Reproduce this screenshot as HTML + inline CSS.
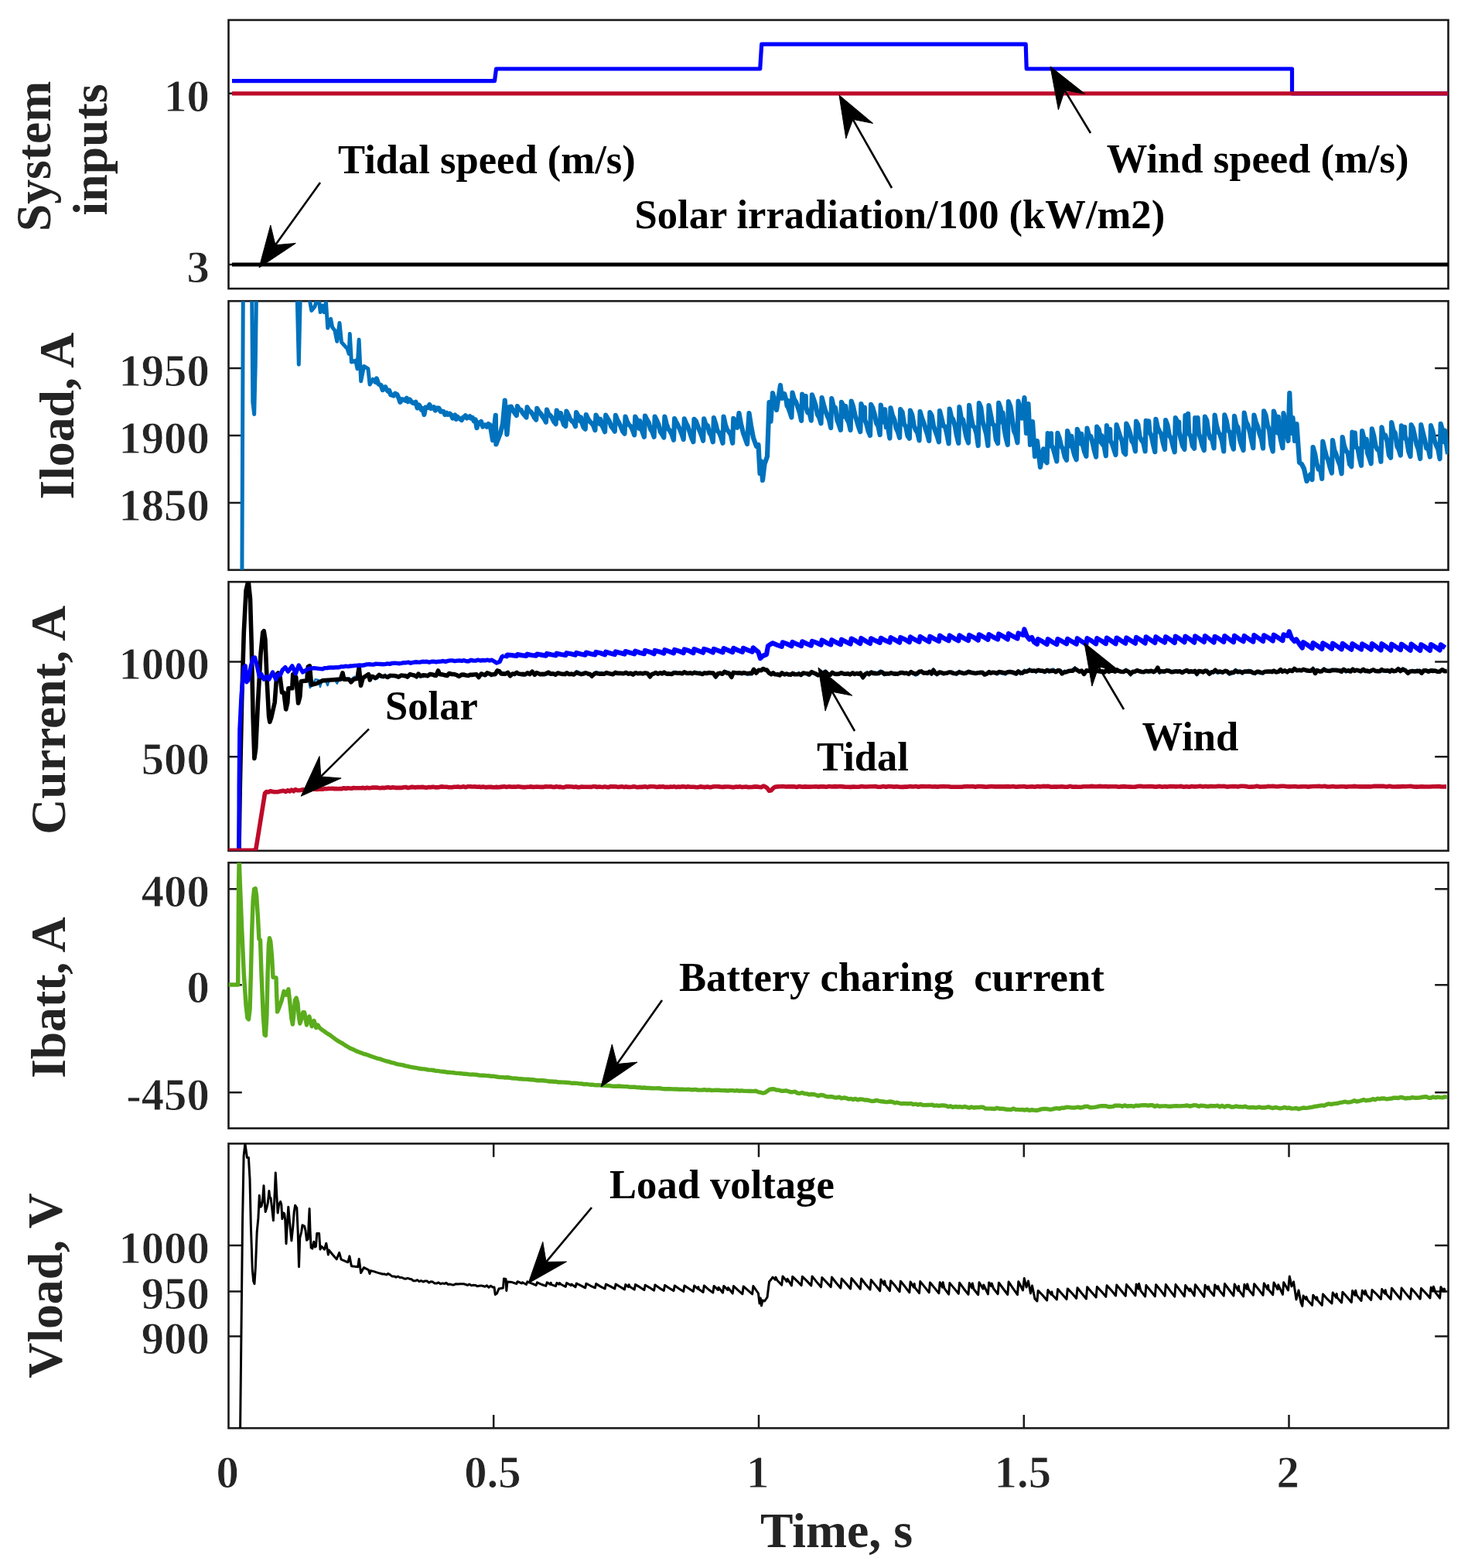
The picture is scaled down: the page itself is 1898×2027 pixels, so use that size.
<!DOCTYPE html>
<html lang="en"><head><meta charset="utf-8"><title>System inputs, currents and load voltage</title>
<style>
html,body{margin:0;padding:0;background:#fff;}
body{width:1898px;height:2027px;}
svg{display:block;}
text{font-family:"Liberation Serif","DejaVu Serif",serif;font-weight:bold;fill:#242424;}
.tk{font-size:58.7px;stroke:#fff;stroke-width:0.8px;paint-order:fill stroke;}
.lb{font-size:63.7px;}
.an{font-size:52.6px;fill:#000;white-space:pre;}
.fr{fill:none;stroke:#1a1a1a;stroke-width:2.6;}
.t{stroke:#1a1a1a;stroke-width:2.5;fill:none;}
.ar{stroke:#000;stroke-width:2.6;fill:none;stroke-linecap:butt;}
.ah{fill:#000;stroke:#000;stroke-width:1;stroke-linejoin:round;}
</style></head><body>
<svg width="1898" height="2027" viewBox="0 0 1898 2027" role="img" aria-label="Five stacked time plots: system inputs, load current, source currents, battery current and load voltage">
<rect x="0" y="0" width="1898" height="2027" fill="#fff"/>
<g id="panel1">
<clipPath id="c1"><rect x="295.5" y="25.9" width="1577" height="347.2"/></clipPath>
<path class="t" d="M295.5 120.8h17.3M1872.5 120.8h-17.3M295.5 342h17.3M1872.5 342h-17.3"/>
<rect class="fr" x="295.5" y="25.9" width="1577" height="347.2"/>
<g clip-path="url(#c1)">
<polyline points="300,104.6 639.5,104.6 641.5,89 982.7,89 984.7,57.2 1326.2,57.2 1327.2,89 1670.5,89 1670.5,120.8 1872.5,120.8" fill="none" stroke="#0000ff" stroke-width="5.2" stroke-linejoin="round" stroke-linecap="butt"/>
<polyline points="300,120.8 1872.5,120.8" fill="none" stroke="#be0a2a" stroke-width="5.2" stroke-linejoin="round" stroke-linecap="butt"/>
<polyline points="300,342 1872.5,342" fill="none" stroke="#000000" stroke-width="5.2" stroke-linejoin="round" stroke-linecap="butt"/>
</g>
<text class="tk" x="270.8" y="143.6" text-anchor="end">10</text>
<text class="tk" x="270.8" y="364.8" text-anchor="end">3</text>
<text class="lb" transform="translate(64.5 201.9) rotate(-90)" text-anchor="middle">System</text>
<text class="lb" transform="translate(138 193.5) rotate(-90)" text-anchor="middle">inputs</text>
</g>
<g id="panel2">
<clipPath id="c2"><rect x="295.5" y="389.2" width="1577" height="347.6"/></clipPath>
<path class="t" d="M295.5 476h17.3M1872.5 476h-17.3M295.5 562.9h17.3M1872.5 562.9h-17.3M295.5 650h17.3M1872.5 650h-17.3"/>
<rect class="fr" x="295.5" y="389.2" width="1577" height="347.6"/>
<g clip-path="url(#c2)">
<polyline points="312.9,740.8 313.6,560 314.4,359.2 325.5,359.2 326.8,520 328.7,535.5 330.3,470 331.8,359.2 383.6,359.2 386.3,471.3 388.8,359.2 400,359.2 400.7,389.7 402.8,401.5 407.1,396.1 409.3,388.6 412.5,388.6 414.2,403.6 416.8,395 419,403.6 421.5,390.7 423.7,424.1 427.6,412.2 429.7,423 432.9,427.3 435.7,441.3 439,417.6 441.5,442.3 449.1,450.9 451.2,457.4 452.3,431.6 454.4,468.1 459.8,466 462,476.7 464.1,439.1 466.7,492.8 470.5,473.5 475.9,476.7 478.1,497.1 483.4,488.5" fill="none" stroke="#0072bd" stroke-width="5.0" stroke-linejoin="round" stroke-linecap="butt"/>
<polyline points="483.4,488.5 485.4,493.8 486.9,489.5 489,495.8 491,497.5 492.6,498 494.7,504.1 496.7,502.3 498.1,500.2 499.8,503.4 501.7,505.6 503.2,504.7 505.1,510.3 506.7,510.4 508.8,511.5 511,508.8 513.4,510 515.5,514.5 517.4,519.9 519.6,516.2 521.9,516.5 524.2,517.8 525.8,514.8 527.4,519.2 529.7,516.5 531.8,519.1 533.9,520.9 535.5,521.3 537.5,519.7 539.6,527.4 541.8,523.6 543.4,526.4 544.9,529.8 546.6,528.4 548.4,536 550.1,526.6 551.5,526.6 553.3,526.9 555.4,523.1 557.1,528 559,527.5 561,526.2 562.8,530.6 565.1,527.6 567.4,527.7 569.7,532.1 571.6,531.7 573.4,532.1 575.4,536 577.5,533.9 579,535.9 581.4,534.6 583.2,536.1 585.2,540.6 586.9,538.7 588.3,536.6 589.8,541.9 591.3,538.6 592.9,540.6 594.6,541.2 596.9,543 598.8,539.7 600.2,539.1 601.8,537.3 603.6,540.6 605.6,539.6 607.4,538.2 608.9,540.7 610.9,540 612.7,544.2 614.7,542.5 616.5,553.2 618.5,546.3 620.6,546.8 622.1,545.1 624.2,551.6 625.6,549.9 627.7,549.3 629.6,551.8 631.5,548.1 633.7,549.4 637.1,569.1 640.8,536.9 641.4,574.5 646.8,560.5 650,547.7 652.8,517.6 655.4,561.6 658.6,526.2 660.1,529.2 660.9,529.9 660.9,525.6 663.2,530.7 665.5,534 667.8,537.1 668.9,525.2 671.3,529.1 673.6,529.9 675.9,534 678.2,536.7 680.5,539.5 681.6,526.3 684,531 686.3,532.4 688.6,535.5 690.9,539.7 693.2,542.6 694.3,527.9 696.7,532.1 699,534.4 701.3,538.4 703.6,541.4 705.9,545.8 707,529.7 709.4,535.4 711.7,537.2 714,540.6 716.3,545.3 718.6,548.1 719.7,530.5 722.1,535.2 724.3,540.8 724.4,539.9 725,534 726.7,542 729,548.9 731.3,551 732.4,531.6 734.8,536.3 737.1,541.8 739.4,544.4 741.7,546.2 744,551.2 745.1,533 747.5,537.5 749.8,540.3 750.3,544.3 751.1,539.5 752.1,545.9 754.4,552.3 756.7,554.7 757.8,536 760.2,541.3 762.5,544.8 764.8,546.8 767.1,550 769.4,556.1 770.5,536.6 772.9,540.8 775.2,546.8 775.5,548 776.3,541.9 777.5,548.3 779.8,553 782.1,558.2 783.2,536.7 785.6,540.8 787.9,544.6 790.2,551.2 792.5,554.1 794.8,557.7 795.9,536.9 798.3,542.9 800.6,547 802.9,552.3 805.2,557.7 807.5,560.6 808.6,538.6 811,545.2 813.3,549.2 815.6,551.3 817.9,556.2 820.2,562.4 821.3,538.7 823.7,543.1 826,546.6 826.6,553.8 827.3,544.1 828.3,552.5 830.6,558.4 832.9,564.9 834,537.5 836.4,542.3 838.7,546.1 841,554.7 843.3,558.2 845.6,564.8 846.7,538.5 849.1,543.4 851.4,548.6 853.7,558.1 856,561.5 858.3,565.6 859.4,538.6 861.8,548.3 864.1,554.5 866.4,557.3 868.7,561.9 871,568.7 872.1,541 874.5,546.1 876.8,550.2 879.1,555.3 881.4,561.1 883.7,568.1 884.8,541.4 887.2,547.3 889.5,551.6 891.8,558.9 894.1,565.9 896.4,571.2 897.5,541.9 899.9,544.6 902.2,551 904.5,556.8 906.8,562.2 909.1,569.7 910.2,541.3 912.6,549.1 914.9,550.3 917.2,559.3 919.5,563.1 921.8,571.3 922.9,540.1 925.3,547.8 927.6,556.9 929.9,559.4 932.2,565 934.5,572.8 935.6,538.6 938,549.6 940.3,555.8 942.6,558.3 944.9,562.1 947.2,572.8 948.3,540.8 950.7,551.1 953,552.8 955.5,534 958,548 961,560 966,574 968.5,534 971,550 974,566 978,577 980.5,575 982.5,612 984,596 986,621 988.5,600 992,590 994.5,520 996.5,545 999,508 1002,520 1004,530 1009,498 1011,515 1014.2,509.1 1016.5,517.6 1017.6,524.7 1018.3,517.7 1018.8,526.3 1021.1,532.3 1023.4,539.6 1024.5,507.5 1026.9,516.2 1029.2,519.7 1031.5,526.5 1033.8,533.2 1036.1,543.9 1037.2,509.7 1039.6,519.5 1041,524.9 1041.7,512 1041.9,525.5 1044.2,533.3 1046.5,533.3 1048.8,543.6 1049.9,510.3 1052.3,516.9 1054.6,524.2 1056.9,535.8 1059.2,539.9 1061.5,547.4 1062.6,514.1 1065,523.3 1067.3,531.3 1069.6,537.4 1071.9,542.4 1074.2,553.1 1075.3,515.1 1077.7,525.4 1080,527.1 1082.3,542.9 1084.6,549 1086.9,555.9 1088,519.8 1090.4,524.5 1092.6,538.8 1092.7,538.8 1093.4,525 1095,541.7 1097.3,546.1 1099.6,556 1100.7,518.5 1103.1,525.6 1105.4,536.5 1107.7,543.9 1110,551.8 1112.3,558.2 1113.4,522 1115.8,529.3 1117,538.6 1117.8,526.8 1118.1,542.3 1120.4,548.7 1122.7,557.6 1125,563 1126.1,522.8 1128.5,527.5 1130.8,535.6 1133.1,547.1 1135.4,551 1137.7,562.2 1138.8,523.7 1141.2,536.3 1143.4,546.1 1143.5,539.1 1144.1,529.3 1145.8,552.4 1148.1,552.8 1150.4,566.5 1151.5,527.3 1153.9,536.7 1156.2,541.9 1158.5,553.3 1160.8,558.2 1163.1,565.8 1164.2,529.2 1166.6,532.7 1168.9,548.1 1171.2,551.9 1173.5,563.4 1175.8,566.8 1176.9,530.7 1179.3,536.3 1181.6,549.8 1183.9,555.9 1186.2,559.3 1188.5,569.4 1189.6,532.1 1192,540.3 1194.3,546.5 1196.6,554.4 1198.9,561.2 1201.2,569.9 1202.3,533.1 1204.7,537.2 1207,550.5 1209.3,557.4 1211.6,563.6 1213.9,571.3 1215,531.2 1217.4,540.8 1219.7,550.6 1222,551.5 1224.3,561.3 1226.6,573.4 1227.7,528.6 1230.1,539.2 1232.4,542.6 1234.7,550.8 1237,563.6 1239.3,572.9 1240.4,526.2 1242.8,540.5 1245.1,542.8 1247.4,555.7 1249.7,566 1252,572.5 1253.1,523.9 1255.5,539.5 1257.8,550.5 1260.1,552.7 1262.4,560.1 1264.7,576.1 1265.8,521 1268.2,526.8 1270.5,544.6 1272.8,553 1275.1,561 1277.4,576.2 1278.5,524 1280.9,536.2 1283.2,548.1 1285.5,550.1 1287.8,568.4 1290.1,573.3 1291.2,520.8 1293.6,527.7 1295.7,545.8 1295.9,535.8 1296.5,533.6 1298.2,553.2 1300.5,565.9 1302.8,575 1303.9,519.1 1306.3,525.3 1308.6,539.8 1310.9,557.2 1313.2,562 1315.5,572.3 1316.6,518.7 1319,531.6 1321.3,540.7 1324.5,514 1327,560 1329.5,522 1332,575 1335,545 1338,590 1341,570 1345,604 1349,580.3 1351.3,595.7 1353.6,598.3 1354.7,560.2 1357.1,572.4 1358.2,576.4 1359,560.3 1359.4,575.4 1361.7,579.7 1364,588.1 1366.3,596.4 1367.4,559.9 1369.8,566.6 1372.1,576.7 1374.4,580.8 1376.7,590.5 1379,594.8 1380.1,557.2 1382.5,564.3 1384.6,575.3 1384.8,576.9 1385.4,563.9 1387.1,580.4 1389.4,588.9 1391.7,594.2 1392.8,554.8 1395.2,561.1 1397.5,573.5 1397.5,573.1 1398.3,560.9 1399.8,575.3 1402.1,584.1 1404.4,589.9 1405.5,553.5 1407.9,562.7 1410.2,563.9 1412.5,572.1 1414.8,582.5 1417.1,590.7 1418.2,551.7 1420.6,555 1422.9,565.9 1423.5,571.8 1424.3,563 1425.2,574.2 1427.5,576.7 1429.8,589.3 1430.9,550.2 1433.3,561.5 1434.5,565.1 1435.2,555.2 1435.6,569.5 1437.9,573.8 1440.2,581.2 1442.5,588 1443.6,549.1 1446,556.7 1448.3,564.2 1450.6,569.8 1452.9,584.6 1455.2,587.4 1456.3,547.7 1458.7,552.6 1461,559.7 1463.3,570.4 1465.6,573.2 1467.9,583.4 1469,544.7 1471.4,549.1 1473.7,564.6 1476,569.4 1478.3,572.4 1480.6,583.4 1481.7,543.8 1484.1,549.4 1484.4,557.8 1485.2,544.3 1486.4,558.6 1488.7,563.8 1491,574.8 1493.3,584.2 1494.4,541.8 1496.8,552.4 1499.1,557.5 1501.4,561.4 1503.7,572.6 1506,581 1507.1,543 1509.5,549.6 1511.8,562.6 1514.1,566.6 1516.4,576.4 1518.7,584.3 1519.8,540.2 1522.2,545 1523.4,556.4 1524.2,545.5 1524.5,557.4 1526.8,568 1529.1,576.6 1531.4,580.9 1532.5,537.1 1534.9,546 1535.3,553.4 1536.1,534.9 1537.2,560.3 1539.5,564.5 1541.8,576.4 1544.1,579.7 1545.2,540 1547.6,550.9 1547.7,553.6 1548.5,540.1 1549.9,559.9 1552.2,567.3 1554.5,576.1 1556.8,582.2 1557.9,538.7 1560.3,543.4 1562.6,559.5 1564.9,566.5 1567.2,568.7 1569.5,579.3 1570.6,536.5 1573,550.3 1575.3,558.5 1577.6,562.5 1579.9,570 1582.2,583.4 1583.3,536.4 1585.7,543.8 1588,556.3 1590.3,559.2 1592.6,574.1 1594.9,580.6 1596,537.8 1598.4,549.2 1600.7,552.8 1603,568.5 1605.3,576.1 1607.6,582 1608.7,533.5 1611.1,545.3 1613.4,549.6 1615.7,557.7 1618,568.9 1620.3,579.2 1621.4,536.5 1623.8,545.6 1626.1,551.4 1628.4,560.6 1630.7,566.8 1633,579.5 1634.1,531.3 1636.5,536.8 1638.8,549.1 1641.1,556.1 1643.4,575.4 1645.7,583.5 1646.8,531.6 1649.2,538.6 1651.5,547.2 1652,559.7 1652.7,538.8 1653.8,556.8 1656.1,569.6 1658.4,579.2 1659.5,534.1 1661.9,546.9 1665.5,570 1667.3,508 1669.5,560 1671.5,540 1674,570 1676.5,548 1680,598 1683,600 1686,606 1689.5,622 1694.2,613.3 1696.5,620.1 1697.6,578 1700,586.1 1702.3,598.9 1704.6,606.6 1706.9,605.9 1709.2,618.9 1710.3,570.6 1712.7,581.2 1715,590 1717.3,595.3 1719.6,604.3 1721.9,611.5 1723,569.1 1725.4,582.3 1727.7,587.7 1730,595.4 1732.3,601 1734.6,612.3 1735.7,565.1 1738.1,577 1740.4,582.8 1742.7,585.7 1745,600.2 1747.3,603.2 1748.4,558.7 1750.8,572.8 1751,572.7 1751.8,559.6 1753.1,578 1755.4,579.7 1757.7,592 1760,601.8 1761.1,557.1 1763.5,567 1765.8,576.7 1765.9,577.9 1766.7,567.8 1768.1,585.9 1770.4,592.2 1772.7,599.2 1773.8,554.4 1776.2,563 1778.5,576.3 1780.8,581 1783.1,582.6 1785.4,596.8 1786.5,552.4 1788.9,564.5 1791.2,562.8 1793.5,570.9 1795.8,588.2 1798.1,591.7 1799.2,546.1 1801.6,556.6 1803.9,559.9 1806.2,576.7 1808.5,580.9 1810.8,588.6 1811.9,550.4 1814.3,559.6 1815.2,566.2 1816,552.2 1816.6,563.5 1818.9,570 1821.2,583.5 1823.5,590.1 1824.6,549.2 1827,553.8 1829.3,564.5 1831.6,574.9 1833.9,580.9 1836.2,593 1837.3,549.2 1839.7,559.1 1842,568.3 1844.3,579.7 1846.6,579.7 1848.9,590.5 1850,550.2 1852.4,557.5 1854.7,569.3 1857,575.9 1859.3,580.8 1861.6,593.3 1862.7,547.8 1865.1,556.3 1867.3,571.3 1867.4,566.5 1868.1,556.5 1869.7,572.1 1872,587" fill="none" stroke="#0072bd" stroke-width="6.2" stroke-linejoin="round" stroke-linecap="butt"/>
</g>
<text class="tk" x="270.8" y="498.8" text-anchor="end">1950</text>
<text class="tk" x="270.8" y="585.7" text-anchor="end">1900</text>
<text class="tk" x="270.8" y="672.8" text-anchor="end">1850</text>
<text class="lb" transform="translate(94.8 537.7) rotate(-90)" text-anchor="middle">Iload, A</text>
</g>
<g id="panel3">
<clipPath id="c3"><rect x="295.5" y="752.2" width="1577" height="347.6"/></clipPath>
<path class="t" d="M295.5 855.6h17.3M1872.5 855.6h-17.3M295.5 978.2h17.3M1872.5 978.2h-17.3"/>
<rect class="fr" x="295.5" y="752.2" width="1577" height="347.6"/>
<g clip-path="url(#c3)">
<polyline points="398.6,879 400.8,889.1 404.1,885.3 407.7,878.1 411.7,879 414,888 416.2,880.8 420.4,879 423.6,886.2 425.8,879.9 433,879.3 435.8,883.7 438.1,879.3 453,878.6 458.4,874.6 462,878.1" fill="none" stroke="#0072bd" stroke-width="2.4" stroke-linejoin="round" stroke-linecap="butt"/>
<polyline points="482,876.1 484.9,878.4 487.4,877.9 490.2,874.6 493.4,874.7 495.7,876.6 497.9,871.6 501.2,877 504.3,875.4 506.7,873.7 509.4,872.3 512.1,874.3 515.3,873.5 518.7,873.7 522.1,874.4 524.5,875.4 526.8,875.2 530,869.8 533.1,871.3 535.4,874.6 538.7,876.8 541,873.3 543.7,872 547.1,875.4 549.9,874.2 552.8,873.3 555.9,869.9 558.7,870.2 561.6,875.2 563.9,874.9 566.5,868 568.7,869.9 571.7,873.3 574.9,872.2 578,871.1 580.8,870.3 583.9,873.1 587.2,870.3 590.5,872.7 593.4,873.4 596.6,870.6 599.8,871.6 602.5,872.8 605.5,872.7 607.7,871.7 610.4,873.2 613.5,870.9 616.1,871 619,877.2 622.2,870 624.7,872.3 627.4,873.7 629.9,872.4 632.5,869.6 634.9,874.4 638.1,872.3 640.3,870.4 643,868.5 645.3,868.9 648.1,871 650.7,868.9 653.5,870.5 656.6,869.1 659.6,871.8 662.6,870.6 665.3,873.4 668.2,869.2 670.4,870 673.6,871 676.7,873.9 679,870.9 682.1,870.7 684.9,872.4 688.1,869.6 691.3,870 693.6,867.9 695.9,871.9 698.5,872.3 700.9,872.2 703.6,869.8 706.3,872.8 709,871.9 712.1,873 715.1,872.5 718.2,871.2 721.2,870 724.1,869.9 727.5,871.9 730.7,873.3 732.9,868.9 735.5,873.1 738.9,869.3 742.1,873.1 745.2,867.1 748.6,868.3 751.6,871 754.1,868.8 757.2,868.6 760.4,873.2 762.7,872 765.3,876.2 768,869.1 770.8,868.2 773.1,868.7 775.6,869.2 778.2,868.8 781.5,871.8 784.1,871.3 786.9,869.5 790,870.1 792.7,872.5 795.6,869.7 798.3,870.4 801.4,869.8 804.3,869 806.8,869.5 809.3,870.5 812.6,871.8 815.4,872.3 818.5,873.4 821.5,869.1 824.9,869.3 828,871.8 831.3,868.9 834,871.3 837.3,871.1 840.3,876.7 842.6,873.9 845.4,872 847.6,870.5 850.5,871 853.7,870.3 856.1,870.2 858.7,870.4 862,869.7 865,871.1 868.3,872.2 870.6,867.7 873,870 875.7,868.9 878.8,870.2 881.9,870.7 884.8,870.5 887.9,872.1 890.4,872.1 892.6,870.6 894.9,872.5 897.9,867.4 900.2,871.3 902.9,868.9 905.3,868.4 908.4,871.7 910.9,871.2 913.5,871.2 916.5,871.5 918.9,868.6 922.1,870.4 925.3,877 928.3,873.4 931,868.7 934.1,870.3 936.8,867.8 939.9,867.6 942.5,868.7 945.8,877.1 948.1,870.2 950.4,868 953.6,871.6 956.7,871.6 959.4,872.4 961.7,868.6 964,870.6 966.2,872.7 969.1,872.1 972.2,872.6 974.5,865.7 977.8,868.8 981,867.4 984.2,867.6 986.6,865.5 989,866.4 991.3,865.8 994.2,867.6 997.1,872.9 999.7,871.4 1002.1,871.8 1005.5,869.7 1008.2,872.1 1010.9,870.6 1014.3,872.6 1016.6,872.2 1019.5,873.8 1022.3,870.5 1024.8,872.9 1027.1,869.4 1030.5,871.5 1032.9,868.7 1035.7,874.3 1038.5,870.8 1041,869.2 1043.8,873.2 1046.2,873.7 1049.4,869.5 1051.6,868.5 1054.5,871.1 1057.6,870.9 1061,869.9 1064.4,867.8 1067.5,866.3 1070.4,873.7 1073.4,873.3 1076.1,869.7 1079.1,872.7 1081.8,872.1 1085.1,869.3 1087.8,872.1 1090.7,869.7 1093.5,870.2 1095.9,872.5 1099.1,871.2 1102.4,870.8 1105,872.5 1107.6,869.7 1110.1,872.8 1112.5,870.5 1115.7,877.8 1118.8,870.4 1121.3,868 1123.7,873.6 1126.5,871 1128.9,869 1131.3,868.1 1133.7,872 1135.9,867.9 1138.6,866.3 1140.8,867.6 1143.1,873.4 1146.3,871.9 1149.5,871.2 1152.1,870.8 1155.2,869.8 1157.8,869.1 1161,873 1163.9,867.7 1166.3,870.4 1169.3,869 1171.9,870.5 1174.8,872.8 1177.9,869.9 1180.5,871.9 1183.4,873.6 1185.9,873.2 1188.5,869.7 1191.3,867.9 1194.2,871.5 1196.9,869.4 1199.1,871.7 1201.8,870.4 1204.4,873 1206.8,863.8 1209.1,871.4 1211.4,873.4 1214.5,871.6 1217.2,869.6 1219.8,870 1222.3,871.2 1224.5,871.8 1226.9,868.2 1229.6,870.9 1232,867.9 1234.7,870.7 1236.9,873.2 1240.1,866.7 1243.3,868.8 1246.3,871.2 1249.2,872.1 1252.4,867.7 1255.4,867.6 1258.7,868.3 1261.3,870.2 1264.4,870.3 1267,867.4 1270.2,870 1272.9,869.7 1276.1,870.5 1278.8,868.8 1281,870 1283.6,869.3 1286,870.1 1289.1,872.3 1291.5,870.4 1294.3,871.3 1297.1,871.8 1299.9,872.8 1303,869 1305.4,870 1308,866.8 1310.6,871.9 1313.6,870.3 1316.5,867.4 1319.2,872.3 1321.9,868 1324.5,865.3 1327.7,868.4 1331,863.8 1334.3,869 1337.2,865.5 1339.6,870.1 1342.4,865.2 1345.5,866 1347.8,866.4 1350.8,867.2 1353.8,867.2 1356.4,870.1 1358.7,865.4 1361.9,864.4 1365.3,866.6 1368,865.9 1370.7,869.8 1373.1,868.4 1376.5,866.4 1378.7,867.8 1381.2,866.8 1384,866 1387,864.5 1389.9,862.1 1392.7,867.9 1395.5,869.6 1398.5,868 1401.5,869.9 1404.7,865.9 1407.2,866 1409.7,866.7 1412.5,867.5 1414.8,868.1 1417.7,866.8 1420.7,866.2 1423.2,868.5 1425.5,867.2 1428.3,870.5 1430.9,867 1433.7,866.5 1435.9,868.9 1439.1,868.5 1441.7,867.3 1444.1,864.4 1446.3,867.9 1449.4,866.9 1452.4,869.3 1455.7,864.4 1459,867.6 1461.7,873.8 1464.7,868.1 1467,867.8 1470.1,867.5 1473.5,868.4 1476.1,869.1 1478.8,870 1482,868.4 1485.3,870 1488.5,868.4 1491.7,867.6 1494.5,866 1496.8,863.3 1499.2,871.2 1502.1,867.4 1505.4,867.8 1508.6,867.2 1511.9,865.4 1514.5,869.6 1516.8,866.5 1520.1,868.2 1522.6,869 1525.3,865.8 1528.6,870.7 1531.1,866.4 1534.4,866.8 1537.1,869.7 1539.7,870.1 1542.3,869.5 1544.9,869.2 1547.4,873.6 1549.8,866.6 1552.7,869 1555.5,868.5 1558.3,869 1561,865.5 1563.7,870.8 1566.5,869.4 1568.9,870.7 1571.3,868.8 1574.2,870.9 1577.5,870.2 1580.6,869.4 1584,866.2 1586.3,869.6 1589.5,872.8 1592.3,871.9 1594.9,870.4 1597.4,864.7 1600.4,866.7 1603.5,866.7 1606.2,871.9 1609.2,868.4 1611.8,866.5 1614.6,865.5 1617,868.1 1619.6,870.8 1622.8,872.3 1625,868.3 1627.5,870.8 1630.7,868.4 1633,871.8 1635.7,867.8 1639,869.5 1642.3,868.8 1644.7,868.9 1647,869.1 1650.3,868.5 1653,869.6 1655.8,864.2 1658,867.4 1661.2,867.1 1664.2,870.6 1667.6,865.2 1670.8,866.9 1673.6,863 1676.8,866.4 1680.1,866.3 1682.5,867.1 1685.2,864.6 1688.4,868.6 1691.2,867.9 1694.5,866.9 1697.6,862.3 1700.5,867.8 1702.9,865.5 1706.2,866.4 1708.6,866.7 1711.7,863.2 1714.2,864.8 1716.8,868.5 1719.4,865.8 1722.3,864.4 1725.4,865.3 1728.6,868.6 1731.4,865.3 1734.4,865.7 1737.3,867.7 1740.5,869.7 1743.4,864.7 1746.2,866.2 1749,867.1 1751.4,865.4 1753.7,865 1756.5,866.3 1759.4,868.6 1762.7,868 1765,868.4 1767.8,869.3 1770.9,869.5 1773.5,865.5 1775.7,867.4 1778.2,868.2 1781.5,869.3 1784,868.3 1786.2,868.3 1789.4,868.5 1792.1,868.5 1794.5,868 1796.8,868 1799.4,867.6 1801.7,868 1804.9,866.8 1807.9,864.1 1810.7,869.1 1813.7,863.1 1816.9,864.9 1820.2,867.8 1822.7,866.6 1826,866.9 1829.2,869.3 1832.2,865.2 1835.5,867.1 1838,869 1841,867 1843.7,868.7 1846.9,869.2 1850,867.1 1852.7,864.9 1855.5,866.7 1858.8,867 1861.3,866.9 1864.6,864.4 1867.9,868 1870.8,867.6" fill="none" stroke="#0072bd" stroke-width="2.2" stroke-linejoin="round" stroke-linecap="butt"/>
<polyline points="309,1099.9 310.3,1016.6 312.6,908 315.3,817.4 318.1,763.1 321.1,750.4 323.5,774 325.3,835.5 327.1,926.1 328.9,980.4 330.7,967.7 333.5,908 337.1,844.6 339.8,817.4 341.2,815.6 342.9,826.5 345.2,880.8 347.6,926.1 348.8,933.3 350.7,927.9 355.2,908 357.9,871.7 359.7,869.9 362.1,875.4 364.6,895.3 367,895.3 369.7,917 371.8,908 372.9,889.8 377.8,889.8 378.7,871.7 382.7,875.4 385.6,908.9 387.8,900.7 389.2,880.8 396.8,879.9 398.3,861.8 400.4,860.9 402.6,885.3 409.5,883.5 416.7,879.9 427.6,879 440.3,878.1 443,869.9 444.8,878.1 451.1,878.1 453.9,881.7 457.5,878.1 462,877.2 464.2,862.7 466.5,886.2 469.3,876.3 476.5,871.7 478.3,879 480.1,874.5 482,874.5 484.9,876.4 487.4,875.3 490.2,872.4 493.4,874.5 495.7,874.3 497.9,874 501.2,875.4 504.3,873.4 506.7,873.5 509.4,873.5 512.1,873.9 515.3,875.1 518.7,873.1 522.1,873.6 524.5,873.6 526.8,875 530,871.8 533.1,872.6 535.4,873 538.7,874.5 541,871.1 543.7,874 547.1,872.8 549.9,873 552.8,873.8 555.9,871.6 558.7,872 561.6,872.8 563.9,873.3 566.5,867 568.7,871.6 571.7,871.9 574.9,872.7 578,873.5 580.8,870.5 583.9,871.5 587.2,871.6 590.5,872.7 593.4,874.3 596.6,872.4 599.8,872.1 602.5,873 605.5,873.4 607.7,872.3 610.4,872.4 613.5,872 616.1,871.9 619,875.5 622.2,871 624.7,871.9 627.4,872.7 629.9,869.9 632.5,870.8 634.9,872.1 638.1,871.7 640.3,871.7 643,866.8 645.3,867.6 648.1,870.9 650.7,871.1 653.5,871.1 656.6,869.5 659.6,873.7 662.6,871.1 665.3,871.3 668.2,869.4 670.4,871.1 673.6,871.6 676.7,871.4 679,871.9 682.1,869.8 684.9,871.5 688.1,868.1 691.3,872.3 693.6,869.8 695.9,870.4 698.5,871.7 700.9,871.4 703.6,871.6 706.3,870.6 709,869.2 712.1,871.2 715.1,870.7 718.2,872.1 721.2,870 724.1,870.8 727.5,871.4 730.7,871.5 732.9,869.8 735.5,871.5 738.9,871.2 742.1,872 745.2,869.3 748.6,870.6 751.6,871.6 754.1,871.1 757.2,869.9 760.4,870.9 762.7,871.4 765.3,874 768,871.5 770.8,870 773.1,870.8 775.6,871.2 778.2,871.1 781.5,871.2 784.1,869.6 786.9,870.6 790,871.2 792.7,871.7 795.6,869.3 798.3,870.4 801.4,870.2 804.3,870.6 806.8,870.6 809.3,869.4 812.6,871.2 815.4,870.2 818.5,872 821.5,869.7 824.9,870.8 828,870.2 831.3,870.9 834,870 837.3,870.6 840.3,874.7 842.6,871.7 845.4,870.8 847.6,869.6 850.5,871.1 853.7,869.9 856.1,870.9 858.7,869.2 862,871.1 865,870.9 868.3,871.5 870.6,870.2 873,869.6 875.7,870.2 878.8,870 881.9,870.8 884.8,868.9 887.9,870.3 890.4,870.3 892.6,869.9 894.9,870.6 897.9,869.6 900.2,870 902.9,870.5 905.3,870.6 908.4,871.5 910.9,869.9 913.5,870.5 916.5,869.6 918.9,870 922.1,870.1 925.3,874.7 928.3,870.8 931,870.3 934.1,871.2 936.8,868.3 939.9,870.1 942.5,870.2 945.8,875.3 948.1,869.4 950.4,869.8 953.6,870 956.7,869.9 959.4,870.5 961.7,869.6 964,870.3 966.2,870.7 969.1,870.4 972.2,870.3 974.5,865.4 977.8,870 981,866.2 984.2,866.7 986.6,864.5 989,865.9 991.3,866 994.2,869.8 997.1,871.7 999.7,869.8 1002.1,871.8 1005.5,872 1008.2,872.9 1010.9,869.8 1014.3,872 1016.6,871.1 1019.5,871.7 1022.3,872.2 1024.8,870.4 1027.1,871.7 1030.5,871.8 1032.9,871.2 1035.7,872.3 1038.5,870 1041,870.5 1043.8,870.7 1046.2,872 1049.4,868.7 1051.6,869.8 1054.5,870.9 1057.6,872.9 1061,871.9 1064.4,870.1 1067.5,868.5 1070.4,871.6 1073.4,872.4 1076.1,869.3 1079.1,871.1 1081.8,871.4 1085.1,871.1 1087.8,869.8 1090.7,871 1093.5,871.2 1095.9,870.7 1099.1,872 1102.4,869.9 1105,871.5 1107.6,870.5 1110.1,871.2 1112.5,870.2 1115.7,875.6 1118.8,871.4 1121.3,870.3 1123.7,871.4 1126.5,869 1128.9,870.4 1131.3,870.7 1133.7,870.6 1135.9,870.5 1138.6,869 1140.8,869.1 1143.1,871.1 1146.3,870.9 1149.5,871 1152.1,869.8 1155.2,870.9 1157.8,871.1 1161,871 1163.9,869.8 1166.3,869.5 1169.3,870.4 1171.9,870 1174.8,871.3 1177.9,868.7 1180.5,870.1 1183.4,871 1185.9,870.6 1188.5,868.3 1191.3,867.9 1194.2,870 1196.9,869.7 1199.1,870.4 1201.8,868.3 1204.4,870.8 1206.8,866.4 1209.1,869.9 1211.4,871.4 1214.5,869 1217.2,869.6 1219.8,870.7 1222.3,870.2 1224.5,870 1226.9,869 1229.6,869 1232,870.3 1234.7,870.7 1236.9,870.5 1240.1,868.9 1243.3,869.8 1246.3,870.6 1249.2,869.9 1252.4,868.4 1255.4,869.5 1258.7,869.9 1261.3,870.4 1264.4,869.7 1267,869.6 1270.2,869.3 1272.9,872 1276.1,870.9 1278.8,868.6 1281,870.1 1283.6,869.3 1286,869.5 1289.1,870.5 1291.5,868.6 1294.3,869 1297.1,869.6 1299.9,870.1 1303,868.8 1305.4,868.4 1308,869.1 1310.6,869.4 1313.6,871 1316.5,867.8 1319.2,869.7 1321.9,869.9 1324.5,868 1327.7,868.1 1331,866.4 1334.3,867.3 1337.2,867.1 1339.6,867.7 1342.4,866.3 1345.5,867.2 1347.8,867.1 1350.8,868.5 1353.8,866.4 1356.4,867.4 1358.7,867.4 1361.9,867 1365.3,868.6 1368,866.5 1370.7,867.3 1373.1,870.8 1376.5,868.9 1378.7,868.7 1381.2,867.6 1384,867.2 1387,867.2 1389.9,864.5 1392.7,866.3 1395.5,868.2 1398.5,867 1401.5,871.4 1404.7,866.9 1407.2,867.1 1409.7,867.2 1412.5,867.9 1414.8,867.9 1417.7,867.3 1420.7,867.8 1423.2,868.2 1425.5,867.9 1428.3,868.9 1430.9,865.5 1433.7,868.4 1435.9,867.1 1439.1,867.2 1441.7,868.2 1444.1,865.9 1446.3,867.4 1449.4,868.2 1452.4,868.5 1455.7,866.7 1459,868.2 1461.7,871.2 1464.7,868.3 1467,868.4 1470.1,866.6 1473.5,867.8 1476.1,868.5 1478.8,868.7 1482,867.4 1485.3,868 1488.5,867.3 1491.7,868.6 1494.5,866.9 1496.8,863.1 1499.2,868.6 1502.1,867.7 1505.4,868.1 1508.6,866.7 1511.9,867.4 1514.5,868.7 1516.8,868.6 1520.1,867.8 1522.6,868.1 1525.3,867.8 1528.6,869.4 1531.1,868.1 1534.4,866.5 1537.1,868.7 1539.7,867.7 1542.3,868.4 1544.9,867.4 1547.4,871.1 1549.8,867.6 1552.7,867.9 1555.5,868.9 1558.3,867 1561,868.2 1563.7,871.2 1566.5,868.8 1568.9,868.7 1571.3,866.3 1574.2,868.7 1577.5,868.1 1580.6,869.2 1584,867.4 1586.3,867.7 1589.5,870.6 1592.3,869.2 1594.9,869.6 1597.4,867.1 1600.4,868.7 1603.5,868.3 1606.2,869.6 1609.2,868.1 1611.8,868 1614.6,868.1 1617,867.9 1619.6,869.6 1622.8,870 1625,868.4 1627.5,868.4 1630.7,869.7 1633,869.6 1635.7,868.2 1639,868.1 1642.3,868.1 1644.7,868.6 1647,867.2 1650.3,868.9 1653,868.2 1655.8,865.7 1658,868.3 1661.2,866.9 1664.2,868.7 1667.6,866.4 1670.8,867.5 1673.6,864.5 1676.8,866.8 1680.1,866.3 1682.5,866.9 1685.2,865.3 1688.4,866.3 1691.2,867.1 1694.5,867.2 1697.6,864.9 1700.5,870.4 1702.9,866.6 1706.2,867.9 1708.6,868 1711.7,865.3 1714.2,866.8 1716.8,867.3 1719.4,867.4 1722.3,866.5 1725.4,866.4 1728.6,866.4 1731.4,866.9 1734.4,868.3 1737.3,865.3 1740.5,867.3 1743.4,867 1746.2,868 1749,865.2 1751.4,867.3 1753.7,866.2 1756.5,866.8 1759.4,867.9 1762.7,865.3 1765,867.4 1767.8,867.1 1770.9,868 1773.5,866.7 1775.7,865.9 1778.2,867.4 1781.5,867.6 1784,867.8 1786.2,865.7 1789.4,867 1792.1,867.1 1794.5,866.8 1796.8,868.2 1799.4,866.1 1801.7,867.6 1804.9,867.2 1807.9,864.7 1810.7,867.5 1813.7,865.4 1816.9,866.7 1820.2,870.2 1822.7,868.2 1826,867.4 1829.2,867.9 1832.2,867.8 1835.5,867.4 1838,870.1 1841,866.7 1843.7,866.7 1846.9,868.1 1850,866.8 1852.7,867.5 1855.5,867.1 1858.8,868.3 1861.3,868.2 1864.6,865.8 1867.9,867.7 1870.8,867.5" fill="none" stroke="#000000" stroke-width="5.6" stroke-linejoin="round" stroke-linecap="butt"/>
<polyline points="309,1099.9 309.2,1016.6 309.9,944.2 312.1,898.9 315.3,862.7 317.2,860.9 319,881.7 321.1,879 324.4,860.9 327.1,850.9 329.5,850 332,859.1 335.3,874.5 338,871.7 341.1,878.1 344.3,874.5 347.9,878.1 352.5,869 356.6,878.1 359.7,871.7 362.4,872.6 365.1,866.3 368.8,862.7 372.4,868.1 377.8,860.9 382.3,870.8 386.3,860 391.4,869 398.6,864.5 405.9,863.6 416.7,864.9 420,863.6 423,863.5 426,863 429,862.9 432,863 435,862.6 438,862.8 441,861.7 444,861.9 447,861.1 450,861.6 453,861 456,860.9 459,860.4 462,860.3 465,860 468,860.2 471,859.8 474,858.9 477,858.7 480,859 483,859.1 486,858.2 489,858.4 492,858.5 495,858.8 498,858.6 501,857.9 504,858.4 507,857.4 510,857.2 513,857.4 516,857.7 519,857.4 522,856.6 525,856.7 528,856.1 531,857.2 534,856.4 537,855.8 540,856 543,856.1 546,855.3 549,855.5 552,855.3 555,856.2 558,855.2 561,855.3 564,855.7 567,855.3 570,855.1 573,854.5 576,855.3 579,854.4 582,853.9 585,853.9 588,854.6 591,854.1 594,853.9 597,854.4 600,853.7 603,854.7 606,854.7 609,853.3 612,854 615,854.1 618,853.2 621,854 624,853.5 627,853.8 630,853.1 633,854 636,853.2 639,855 642,857 646,855.5 649,849 652,847.5" fill="none" stroke="#0000ff" stroke-width="5.4" stroke-linejoin="round" stroke-linecap="butt"/>
<polyline points="652,847.5 655.1,848.3 656.2,846.5 662,847.1 667.8,848 668.9,846.1 674.7,847.1 680.5,847.8 681.6,845.7 687.4,847 693.2,847.7 694.3,845.5 700.1,846.6 705.9,847.6 707,844.9 712.8,846.2 718.6,847.3 719.7,844.7 725.5,846 731.3,847 732.4,844.2 738.2,845.3 744,846.7 745.1,844 750.9,845.5 756.7,846.6 757.8,843.6 763.6,845.2 769.4,846.4 770.5,843 776.3,844.2 782.1,846.2 783.2,842.7 789,844.5 794.8,846 795.9,842.4 801.7,844 807.5,845.5 808.6,842.1 814.4,843.7 820.2,845.4 821.3,841.7 827.1,843.7 832.9,845.2 834,841 839.8,842.7 845.6,845.2 846.7,840.9 852.5,842.4 858.3,844.6 859.4,840.2 865.2,842.1 871,844.4 872.1,839.9 877.9,841.7 883.7,844.1 884.8,839.4 890.6,841.3 896.4,844.1 897.5,839.1 903.3,841.4 909.1,843.7 910.2,838.9 916,840.8 921.8,843.5 922.9,838.9 928.7,841.1 934.5,843.3 935.6,838.1 941.4,840.6 947.2,843.1 948.3,837.9 954.1,840.6 959.9,842.8 961,837.8 966.8,840.3 972.6,842.6 973.7,837.4 980.5,843 983,851 986,848 991,846 993,835 996,833 999.1,831.3 1004.9,833.8 1010.7,835.9 1011.8,830.3 1017.6,832.4 1023.4,835.2 1024.5,830 1030.3,832.7 1036.1,835 1037.2,829.4 1043,832.1 1048.8,834.6 1049.9,828.8 1055.7,830.9 1061.5,833.6 1062.6,827.5 1068.4,830.8 1074.2,833.4 1075.3,827.2 1081.1,830.4 1086.9,833.1 1088,826.7 1093.8,829.7 1099.6,832.4 1100.7,825.6 1106.5,828.6 1112.3,832 1113.4,825 1119.2,828.7 1125,831.9 1126.1,825.3 1131.9,828.2 1137.7,830.8 1138.8,824.8 1144.6,827.9 1150.4,830.5 1151.5,824.1 1157.3,827.3 1163.1,830.6 1164.2,824 1170,826.6 1175.8,830.1 1176.9,823.4 1182.7,826.8 1188.5,829.7 1189.6,822.9 1195.4,826.3 1201.2,829.6 1202.3,822.7 1208.1,826 1213.9,829 1215,821.5 1220.8,825.3 1226.6,828.3 1227.7,821.5 1233.5,825.2 1239.3,828.3 1240.4,821.4 1246.2,825 1252,828.1 1253.1,821 1258.9,823.9 1264.7,827.5 1265.8,820.3 1271.6,823.4 1277.4,826.8 1278.5,820.1 1284.3,823.6 1290.1,826.4 1291.2,819.5 1297,822.7 1302.8,826.5 1303.9,819.1 1309.7,822.6 1315.5,825.6 1316.6,818.5 1322.6,821 1324.4,813.5 1327.5,822 1331,826.5 1334,824 1337,830 1340.9,832.8 1342,826.1 1347.8,829.3 1353.6,832.9 1354.7,826.2 1360.5,829.9 1366.3,833.1 1367.4,826.1 1373.2,829.1 1379,832.3 1380.1,825.8 1385.9,829.3 1391.7,832.6 1392.8,825.2 1398.6,829.2 1404.4,832.8 1405.5,825.1 1411.3,828.5 1417.1,832.3 1418.2,825.1 1424,828.4 1429.8,832.1 1430.9,824.5 1436.7,828.3 1442.5,832.2 1443.6,824.5 1449.4,828.1 1455.2,831.7 1456.3,824.5 1462.1,828.1 1467.9,831.7 1469,823.9 1474.8,827.4 1480.6,831.4 1481.7,823.3 1487.5,827.2 1493.3,830.9 1494.4,823.2 1500.2,827.2 1506,830.5 1507.1,823.2 1512.9,826.8 1518.7,831 1519.8,822.6 1525.6,826.2 1531.4,830.3 1532.5,822.5 1538.3,826.3 1544.1,830.6 1545.2,822.3 1551,826.1 1556.8,829.9 1557.9,822.1 1563.7,826.3 1569.5,830.4 1570.6,822.8 1576.4,826 1582.2,829.8 1583.3,822 1589.1,826.2 1594.9,830.1 1596,821.8 1601.8,825.8 1607.6,829.2 1608.7,822 1614.5,826 1620.3,829.6 1621.4,821 1627.2,825 1633,829 1634.1,821.3 1639.9,824.4 1645.7,828.4 1646.8,820.7 1652.6,824.3 1658.4,828.1 1659.5,820.4 1665,822 1666.8,816.5 1670,825 1673.5,829 1676,826.5 1681,834 1683.8,837.6 1684.9,830.2 1690.7,833.9 1696.5,838.1 1697.6,831.1 1703.4,834.9 1709.2,839 1710.3,831.3 1716.1,834.7 1721.9,838.8 1723,831.7 1728.8,835.5 1734.6,839.3 1735.7,831.9 1741.5,836 1747.3,839.7 1748.4,832 1754.2,835.8 1760,839.5 1761.1,832.4 1766.9,835.7 1772.7,839.8 1773.8,832.1 1779.6,836.1 1785.4,840.5 1786.5,832.2 1792.3,836.1 1798.1,840.6 1799.2,832.7 1805,836.3 1810.8,840.1 1811.9,832.7 1817.7,836.5 1823.5,840.8 1824.6,832.6 1830.4,836.7 1836.2,841 1837.3,833.2 1843.1,836.7 1848.9,841 1850,833 1855.8,836.4 1861.6,840.5 1862.7,833.4 1868.5,837.4" fill="none" stroke="#0000ff" stroke-width="6.2" stroke-linejoin="round" stroke-linecap="butt"/>
<polyline points="295.5,1099.3 328.5,1099.3 331,1097 342.5,1025.5 344.5,1023.5 347,1024 349.5,1022.6 352,1023.3 354.5,1023.8 357,1023.7 359.5,1023.7 362,1022.9 364.5,1022.4 367,1022.4 369.5,1023.5 372,1021.7 374.5,1022.9 377,1021.1 379.5,1022.8 382,1020.6 384.5,1021.7 387,1021.8 389.5,1021.3 392,1020.6 394.5,1022.2 397,1021.6 399.5,1020.4 402,1020.5 404.5,1020.3 407,1020.3 409.5,1020.4 412,1020.1 414.5,1020.2 417,1020.3 419.5,1019.6 422,1019.8 424.5,1019.4 427,1019.5 429.5,1019.3 432,1019.6 434.5,1019.5 437,1019.7 439.5,1019.6 442,1019.7 444.5,1018.7 447,1019.5 449.5,1018.8 452,1019 454.5,1019.2 457,1018.5 459.5,1018.7 462,1018.7 464.5,1018.8 467,1018.7 469.5,1018.4 472,1019 474.5,1018.2 477,1018.7 479.5,1018.5 482,1018 484.5,1018.1 487,1018 489.5,1018.5 492,1018.7 494.5,1018.3 497,1018.6 499.5,1018 502,1017.8 504.5,1018.4 507,1017.9 509.5,1018 512,1018.4 514.5,1018.2 517,1018.4 519.5,1018.4 522,1017.7 524.5,1017.5 527,1018.4 529.5,1018.2 532,1017.4 534.5,1017.6 537,1018.1 539.5,1017.6 542,1017.6 544.5,1017.6 547,1017.4 549.5,1018 552,1018.1 554.5,1017.5 557,1017.8 559.5,1017.2 562,1017.6 564.5,1017.9 567,1017.8 569.5,1017.1 572,1016.9 574.5,1017.3 577,1017.2 579.5,1017.6 582,1017.7 584.5,1017.7 587,1017.3 589.5,1017.3 592,1016.9 594.5,1017.5 597,1017.2 599.5,1016.8 602,1017.6 604.5,1016.8 607,1016.7 609.5,1016.9 612,1017 614.5,1016.9 617,1017.3 619.5,1017.1 622,1017.6 624.5,1017.1 627,1017.6 629.5,1017.6 632,1017.3 634.5,1017.4 637,1017.6 639.5,1017.7 642,1017.4 644.5,1017.7 647,1017.4 649.5,1017.1 652,1016.8 654.5,1017.4 657,1017 659.5,1016.9 662,1017.3 664.5,1017.1 667,1017.2 669.5,1016.8 672,1017 674.5,1017.4 677,1017.6 679.5,1017.6 682,1017.2 684.5,1017.1 687,1016.9 689.5,1017.4 692,1017.3 694.5,1017 697,1017.2 699.5,1017.4 702,1017.4 704.5,1016.9 707,1016.9 709.5,1017 712,1016.7 714.5,1017.4 717,1017.5 719.5,1016.8 722,1017.4 724.5,1017.1 727,1017.7 729.5,1017.7 732,1016.9 734.5,1016.7 737,1016.9 739.5,1017 742,1017.5 744.5,1017 747,1017.7 749.5,1017.6 752,1017 754.5,1017.3 757,1017.2 759.5,1017.3 762,1017.2 764.5,1017.4 767,1016.8 769.5,1016.8 772,1017.5 774.5,1017 777,1017.3 779.5,1017.5 782,1016.9 784.5,1017.5 787,1017.6 789.5,1016.7 792,1016.9 794.5,1016.8 797,1017 799.5,1017.4 802,1017 804.5,1016.9 807,1017.5 809.5,1016.9 812,1017.4 814.5,1017.5 817,1017.3 819.5,1016.7 822,1017.3 824.5,1017.7 827,1017.2 829.5,1017.4 832,1017.1 834.5,1016.8 837,1017.7 839.5,1016.9 842,1016.8 844.5,1016.8 847,1017 849.5,1017.4 852,1016.9 854.5,1017.1 857,1016.7 859.5,1017.5 862,1017.4 864.5,1017.5 867,1017 869.5,1017.2 872,1016.8 874.5,1017.6 877,1017.1 879.5,1017.4 882,1016.8 884.5,1016.9 887,1017.5 889.5,1016.8 892,1017.2 894.5,1017.2 897,1017.2 899.5,1017.5 902,1017.7 904.5,1017.1 907,1016.9 909.5,1017.4 912,1017.6 914.5,1017.1 917,1017.6 919.5,1017.6 922,1016.9 924.5,1016.7 927,1016.7 929.5,1016.9 932,1017.2 934.5,1017.4 937,1017.1 939.5,1017 942,1017 944.5,1017.3 947,1017.6 949.5,1017.6 952,1017.1 954.5,1017.3 957,1016.8 959.5,1017.6 962,1017.2 964.5,1017.1 967,1017.6 969.5,1017.5 972,1017.5 974.5,1017.1 977,1016.9 979.5,1017.1 982,1017.5 984.5,1017.6 987,1016 989.5,1017.1 992,1018.8 994.5,1022.3 997,1021.7 999.5,1019.1 1002,1017.3 1005.5,1016.9 1009,1016.8 1012.5,1016.5 1016,1017 1019.5,1016.7 1023,1016.9 1026.5,1016.8 1030,1017.4 1033.5,1016.6 1037,1017.3 1040.5,1016.9 1044,1017.1 1047.5,1017.1 1051,1017 1054.5,1016.8 1058,1017.1 1061.5,1016.9 1065,1016.9 1068.5,1017.2 1072,1016.5 1075.5,1017 1079,1016.6 1082.5,1016.9 1086,1016.5 1089.5,1016.9 1093,1017.3 1096.5,1017.2 1100,1017.4 1103.5,1017 1107,1017.3 1110.5,1017.2 1114,1016.5 1117.5,1017 1121,1017 1124.5,1016.8 1128,1016.7 1131.5,1016.6 1135,1017.2 1138.5,1017.2 1142,1016.6 1145.5,1017.3 1149,1016.5 1152.5,1016.8 1156,1017.1 1159.5,1016.8 1163,1017.2 1166.5,1017.4 1170,1017.1 1173.5,1017.1 1177,1016.6 1180.5,1017 1184,1016.5 1187.5,1017.3 1191,1016.5 1194.5,1016.6 1198,1016.7 1201.5,1016.5 1205,1017 1208.5,1016.8 1212,1017.1 1215.5,1016.7 1219,1016.6 1222.5,1016.8 1226,1016.7 1229.5,1017.3 1233,1017.2 1236.5,1017.3 1240,1017.2 1243.5,1017.3 1247,1016.7 1250.5,1016.5 1254,1016.8 1257.5,1016.5 1261,1017.3 1264.5,1016.6 1268,1016.6 1271.5,1016.9 1275,1017.3 1278.5,1016.9 1282,1016.5 1285.5,1016.9 1289,1016.7 1292.5,1016.9 1296,1016.8 1299.5,1016.9 1303,1016.6 1306.5,1017 1310,1016.5 1313.5,1017.2 1317,1016.9 1320.5,1016.7 1324,1016.5 1327.5,1017.3 1331,1017 1334.5,1016.8 1338,1017.2 1341.5,1016.6 1345,1016.9 1348.5,1016.4 1352,1016.6 1355.5,1016.4 1359,1017.2 1362.5,1017 1366,1017.1 1369.5,1017 1373,1016.7 1376.5,1017.3 1380,1017.3 1383.5,1016.4 1387,1017.3 1390.5,1017 1394,1017.3 1397.5,1017.2 1401,1016.7 1404.5,1016.7 1408,1016.7 1411.5,1016.4 1415,1016.8 1418.5,1016.8 1422,1016.4 1425.5,1016.7 1429,1016.5 1432.5,1016.9 1436,1016.7 1439.5,1016.7 1443,1016.8 1446.5,1017.3 1450,1016.9 1453.5,1016.6 1457,1017 1460.5,1017.1 1464,1017.2 1467.5,1017.3 1471,1016.5 1474.5,1016.4 1478,1016.7 1481.5,1016.8 1485,1016.6 1488.5,1016.5 1492,1016.9 1495.5,1017.1 1499,1016.4 1502.5,1017.3 1506,1016.8 1509.5,1017.1 1513,1016.6 1516.5,1016.5 1520,1016.9 1523.5,1016.8 1527,1016.4 1530.5,1017.2 1534,1016.7 1537.5,1017.2 1541,1016.4 1544.5,1016.9 1548,1016.8 1551.5,1016.3 1555,1017.1 1558.5,1016.5 1562,1016.9 1565.5,1016.5 1569,1016.8 1572.5,1016.6 1576,1016.3 1579.5,1016.5 1583,1016.4 1586.5,1017.1 1590,1016.7 1593.5,1016.5 1597,1016.6 1600.5,1017.1 1604,1016.3 1607.5,1016.3 1611,1016.6 1614.5,1017.2 1618,1017.1 1621.5,1017 1625,1016.3 1628.5,1017.1 1632,1017 1635.5,1016.9 1639,1016.4 1642.5,1016.5 1646,1016.2 1649.5,1016.7 1653,1016.6 1656.5,1016.3 1660,1016.3 1663.5,1016.8 1667,1016.9 1670.5,1016.7 1674,1016.5 1677.5,1017 1681,1016.9 1684.5,1016.7 1688,1016.8 1691.5,1017.1 1695,1016.7 1698.5,1016.5 1702,1016.5 1705.5,1016.3 1709,1016.7 1712.5,1016.3 1716,1017 1719.5,1017 1723,1016.5 1726.5,1017 1730,1017 1733.5,1016.8 1737,1016.8 1740.5,1017.1 1744,1016.7 1747.5,1016.7 1751,1016.4 1754.5,1016.7 1758,1016.9 1761.5,1016.7 1765,1016.9 1768.5,1016.9 1772,1016.9 1775.5,1016.4 1779,1016.4 1782.5,1016.4 1786,1016.4 1789.5,1016.4 1793,1016.9 1796.5,1016.2 1800,1017 1803.5,1017 1807,1016.9 1810.5,1016.9 1814,1016.5 1817.5,1016.8 1821,1016.5 1824.5,1016.4 1828,1017 1831.5,1017.1 1835,1017 1838.5,1016.8 1842,1017 1845.5,1017 1849,1017 1852.5,1016.8 1856,1016.8 1859.5,1016.5 1863,1016.9 1866.5,1017 1870,1016.9" fill="none" stroke="#be0a2a" stroke-width="5.6" stroke-linejoin="round" stroke-linecap="butt"/>
</g>
<text class="tk" x="270.8" y="878.4" text-anchor="end">1000</text>
<text class="tk" x="270.8" y="1001" text-anchor="end">500</text>
<text class="lb" transform="translate(83.5 930.7) rotate(-90)" text-anchor="middle">Current, A</text>
</g>
<g id="panel4">
<clipPath id="c4"><rect x="295.5" y="1115.2" width="1577" height="343.4"/></clipPath>
<path class="t" d="M295.5 1149.2h17.3M1872.5 1149.2h-17.3M295.5 1273.2h17.3M1872.5 1273.2h-17.3M295.5 1412.3h17.3M1872.5 1412.3h-17.3"/>
<rect class="fr" x="295.5" y="1115.2" width="1577" height="343.4"/>
<g clip-path="url(#c4)">
<polyline points="295.4,1273 307.7,1273 308.1,1213.6 308.6,1141.2 309.2,1110.4 310.3,1141.2 312.6,1199.2 315.3,1258.9 318.1,1300.5 319.9,1315.9 321.5,1317.7 323.1,1304.2 324.4,1258.9 325.7,1204.6 327.1,1164.8 328.6,1149.4 330.2,1148.5 331.6,1157.5 333.5,1186.5 334.9,1213.6 336.5,1215.4 338,1258.9 340.3,1313.2 342.1,1337.7 343.4,1338.6 344.9,1313.2 346.1,1258.9 347.4,1220.9 348.5,1212.7 349.8,1217.3 351.6,1237.2 353,1263.4 357,1264 357.7,1286.1 358.6,1307.8 360.6,1303.3 364.2,1293.3 367,1281.5 369.7,1286.1 372.9,1278.8 374.7,1295.1 376.9,1316.8 378.4,1324.1 379.6,1313.2 381.4,1293.3 383.1,1290 384.9,1296.9 386.3,1313.2 387.8,1323.2 389.9,1316.8 391.8,1308.7 393.6,1308.7 395,1316.8 396.5,1325 398.3,1316.8 399.9,1314.1 401.9,1322.3 403.2,1326.8 404.8,1321.4 406.1,1319.6 407.7,1325 408.8,1328.6 410.9,1325 413.1,1328.6 416,1331 419,1333 422,1335.2 425,1337.1 428,1339.1 431,1341.4 434,1343.7 437,1345.6 440,1347.4 443,1349 446,1351.1 449,1352.8 452,1354.7 455,1356 458,1357.3 461,1358.9 464,1360 467,1361.1 470,1362.3 473,1363 476,1364 479,1365.2 482,1366.3 485,1367.3 488,1368.3 491,1368.8 494,1370 497,1371 500,1371.8 503,1372.5 506,1373.6 509,1374.1 512,1375.3 515,1375.9 518,1376.4 521,1376.9 524,1377.9 527,1378.4 530,1379.1 533,1379.7 536,1380.1 539,1380.6 542,1381.3 545,1381.7 548,1381.9 551,1382.4 554,1383.1 557,1383.1 560,1383.5 563,1384.2 566,1384.4 569,1384.9 572,1385.2 575,1385.5 578,1386.2 581,1386.1 584,1386.6 587,1386.8 590,1387.4 593,1387.4 596,1387.7 599,1388.2 602,1388.2 605,1388.6 608,1389.1 611,1388.9 614,1389.1 617,1389.5 620,1390.1 623,1390.2 626,1390.3 629,1390.6 632,1390.8 635,1391.2 638,1391.2 641,1391.8 644,1392.2 647,1392.5 650,1392.6 653,1393 656,1392.8 659,1393.2 662,1393.9 665,1394 668,1394.1 671,1394.7 674,1394.7 677,1395.1 680,1395.1 683,1395.3 686,1395.7 689,1395.8 692,1396.2 695,1396.8 698,1396.7 701,1396.8 704,1397 707,1397.4 710,1398 713,1398 716,1398.2 719,1398.3 722,1399 725,1399 728,1399.1 731,1399.2 734,1399.5 737,1399.8 740,1400.3 743,1400.2 746,1400.4 749,1400.9 752,1401 755,1401.7 758,1401.4 761,1401.9 764,1402.3 767,1402.3 770,1402.9 773,1402.8 776,1402.9 779,1403.2 782,1403.1 785,1403.5 788,1403.5 791,1404.1 794,1404.2 797,1404.2 800,1404 803,1404.3 806,1404.5 809,1404.6 812,1404.8 815,1405.3 818,1405.1 821,1405.2 824,1405.9 827,1405.8 830,1406.2 833,1406 836,1406.5 839,1406.5 842,1406.7 845,1406.9 848,1406.9 851,1406.8 854,1407 857,1407.6 860,1407.7 863,1407.8 866,1407.6 869,1407.9 872,1408 875,1408 878,1408.2 881,1408.1 884,1408.3 887,1408.4 890,1408.2 893,1408.7 896,1408.8 899,1408.4 902,1409 905,1409.1 908,1409 911,1408.7 914,1409.3 917,1408.9 920,1409.5 923,1409.4 926,1409.1 929,1409.3 932,1409.6 935,1409.6 938,1409.8 941,1410 944,1409.6 947,1409.6 950,1410.2 953,1409.7 956,1410.3 959,1409.9 962,1410.4 965,1410.4 968,1410.5 971,1410.4 974,1410.6 977,1410.3 980,1411.6 983,1412.2 986,1413 989,1412.6 992,1410.5 995,1408.5 998,1407.8 1001,1408 1004,1409.1 1007,1409.2 1010,1410.3 1013,1410.3 1016,1409.8 1019,1410.6 1022,1411.7 1025,1411.7 1028,1411.2 1031,1413.1 1034,1413.5 1037,1412.5 1040,1413.7 1043,1413.9 1046,1415 1049,1414.5 1052,1414.7 1055,1415.5 1058,1416.7 1061,1415.5 1064,1415.8 1067,1417.1 1070,1417.9 1073,1417.6 1076,1417.7 1079,1418.8 1082,1419 1085,1418.1 1088,1419.9 1091,1419 1094,1419.5 1097,1420.8 1100,1420.4 1103,1421.3 1106,1420.4 1109,1421.9 1112,1420.9 1115,1421.1 1118,1422 1121,1422 1124,1422.6 1127,1423.5 1130,1423.4 1133,1422.4 1136,1423.2 1139,1423.8 1142,1424 1145,1424.6 1148,1424.5 1151,1424 1154,1424.5 1157,1425.9 1160,1425.2 1163,1426.2 1166,1426.8 1169,1426.4 1172,1426.7 1175,1426.8 1178,1426.4 1181,1427.7 1184,1427.2 1187,1428.2 1190,1427.3 1193,1428.5 1196,1428.6 1199,1428.5 1202,1428.4 1205,1428.1 1208,1429.4 1211,1428.9 1214,1429.6 1217,1428.9 1220,1429 1223,1429.4 1226,1430.8 1229,1429.8 1232,1431.3 1235,1430.5 1238,1431 1241,1430.7 1244,1431.3 1247,1430.5 1250,1431.2 1253,1432.2 1256,1431 1259,1432 1262,1431.5 1265,1431.6 1268,1431.2 1271,1431.3 1274,1433.1 1277,1433.1 1280,1433.1 1283,1433.3 1286,1433.6 1289,1432.3 1292,1433.2 1295,1433.2 1298,1433.5 1301,1434.2 1304,1434.1 1307,1434.6 1310,1433.1 1313,1434.2 1316,1434.4 1319,1434.6 1322,1434.5 1325,1435.1 1328,1434.2 1331,1435.5 1334,1434.7 1337,1435.1 1340,1435.5 1343,1434.9 1346,1433.9 1349,1433.5 1352,1433.4 1355,1433.8 1358,1434.3 1361,1433.9 1364,1432.9 1367,1432.7 1370,1433.3 1373,1432.1 1376,1432.2 1379,1431.3 1382,1431.4 1385,1431.9 1388,1432 1391,1431.7 1394,1431.1 1397,1432.1 1400,1431.4 1403,1430.4 1406,1430.2 1409,1431.7 1412,1431.6 1415,1431.4 1418,1430.8 1421,1430.1 1424,1429.6 1427,1429.8 1430,1429.7 1433,1430.8 1436,1430.7 1439,1430.4 1442,1429.1 1445,1429.2 1448,1429.2 1451,1430.3 1454,1428.9 1457,1430 1460,1429.8 1463,1429.6 1466,1430.3 1469,1429.1 1472,1429.5 1475,1428.9 1478,1428.8 1481,1428.7 1484,1429.2 1487,1428.8 1490,1428.7 1493,1430.4 1496,1429.1 1499,1430.2 1502,1429.9 1505,1429.9 1508,1429.8 1511,1430.3 1514,1430.2 1517,1429.9 1520,1429.6 1523,1429.8 1526,1429.9 1529,1429.6 1532,1429.5 1535,1428.9 1538,1430.1 1541,1429.5 1544,1428.7 1547,1428.9 1550,1430.2 1553,1429.1 1556,1429.4 1559,1430 1562,1430.4 1565,1429.5 1568,1429.7 1571,1429.8 1574,1429.2 1577,1430.8 1580,1429.3 1583,1431 1586,1429.6 1589,1429.7 1592,1431 1595,1431 1598,1430 1601,1430.7 1604,1430.6 1607,1431.1 1610,1430.2 1613,1431.4 1616,1431.8 1619,1431.4 1622,1431.8 1625,1431.9 1628,1431 1631,1432 1634,1432 1637,1431.7 1640,1430.9 1643,1431.9 1646,1432.5 1649,1431.5 1652,1432.2 1655,1432.8 1658,1432.3 1661,1431.4 1664,1432.6 1667,1432 1670,1433.1 1673,1432.9 1676,1432.5 1679,1433.7 1682,1432.9 1685,1432 1688,1432.4 1691,1432.1 1694,1431.6 1697,1431.1 1700,1430.3 1703,1430 1706,1429.4 1709,1428.9 1712,1429.3 1715,1427.8 1718,1426.9 1721,1427.7 1724,1426.9 1727,1426.6 1730,1426.3 1733,1425.3 1736,1424.8 1739,1424.2 1742,1425 1745,1424.9 1748,1424.1 1751,1422.7 1754,1424 1757,1423.5 1760,1422.7 1763,1421.6 1766,1422.8 1769,1422.2 1772,1422 1775,1420.6 1778,1421.7 1781,1420.2 1784,1420.7 1787,1419.9 1790,1420 1793,1420.8 1796,1420.3 1799,1420.1 1802,1419.1 1805,1419.2 1808,1419.5 1811,1418.4 1814,1419 1817,1420 1820,1419.5 1823,1419.6 1826,1418.6 1829,1419.2 1832,1419.3 1835,1419.1 1838,1418.5 1841,1418 1844,1417.7 1847,1419.2 1850,1419.3 1853,1418 1856,1418.9 1859,1418.2 1862,1418.6 1865,1418.9 1868,1417.9 1871,1418.4" fill="none" stroke="#5aac1c" stroke-width="5.4" stroke-linejoin="round" stroke-linecap="butt"/>
</g>
<text class="tk" x="270.8" y="1172" text-anchor="end">400</text>
<text class="tk" x="270.8" y="1296" text-anchor="end">0</text>
<text class="tk" x="270.8" y="1435.1" text-anchor="end">-450</text>
<text class="lb" transform="translate(83.5 1289.7) rotate(-90)" text-anchor="middle">Ibatt, A</text>
</g>
<g id="panel5">
<clipPath id="c5"><rect x="295.5" y="1478.4" width="1577" height="367.8"/></clipPath>
<path class="t" d="M295.5 1610h17.3M1872.5 1610h-17.3M295.5 1669.4h17.3M1872.5 1669.4h-17.3M295.5 1727.5h17.3M1872.5 1727.5h-17.3M638.2 1846.2v-17.3M638.2 1478.4v17.3M981 1846.2v-17.3M981 1478.4v17.3M1323.8 1846.2v-17.3M1323.8 1478.4v17.3M1666.5 1846.2v-17.3M1666.5 1478.4v17.3"/>
<rect class="fr" x="295.5" y="1478.4" width="1577" height="367.8"/>
<g clip-path="url(#c5)">
<polyline points="310.6,1846.6 312,1720.1 313.5,1582.7 315.1,1494.4 316.9,1478.3 318.6,1490.5 319.4,1496.4 321.4,1496.4 323,1523.9 324.3,1582.7 326.3,1641.6 327.7,1656.3 329,1659.6 330.4,1637.7 332.2,1592.5 333.9,1574.9 334.7,1559.2 335.3,1545.4 336.7,1560.2 338.1,1559.2 339.4,1553.3 341,1532.7 342,1551.3 343.2,1566.6 344.9,1561.1 346.3,1555.2 347.9,1539.6 348.9,1548.4 350,1548.4 351.8,1563.1 353.4,1577.8 354.7,1553.3 356.3,1516 357.7,1543.5 359.1,1568 360.6,1557.2 362.6,1553.3 363.8,1557.2 364.9,1575.8 366.5,1568 367.7,1569 368.7,1576.8 370,1607.8 371.4,1582.7 372.8,1560.2 374.4,1578.8 376.9,1603.9 378.7,1586.6 380.2,1567 381.6,1558.2 383.8,1561.5 385.2,1592.5 386.5,1637.7 387.7,1600.4 389.7,1592.5 391,1583.7 393.6,1585.1 395,1590.6 396.5,1603.3 398.3,1601.9 399.1,1582.7 400.1,1562.5 401,1590.6 402.2,1613.1 403.8,1614.1 405.8,1605.3 407.3,1612.1 408.5,1611.2 409.7,1594.5 412.6,1594.5 414,1615.1 415.6,1611.2 419.5,1615.1 421.8,1607.2 424.4,1622 425.4,1616.1 429.3,1621 435.2,1627.8 438.7,1619.4 441.1,1628.2 449.9,1631.8 451.9,1623.9 454.4,1636.7 462.7,1637.7 464.2,1627.4 466.6,1645.5 470.5,1638.6 476.4,1641.6 478,1646.5 479.3,1642.6 484.2,1643.9 487,1644.9 489.5,1645.6 492,1646.2 494.5,1647 497,1647 499.5,1647.9 502,1646.4 504.5,1648.1 507,1649.9 509.5,1649.9 512,1651.2 514.5,1650 517,1651.5 519.5,1651.5 522,1652.7 524.5,1653.2 527,1652.3 529.5,1653.2 532,1653.8 534.5,1655.7 537,1655.8 539.5,1654.7 542,1656.7 544.5,1655.5 547,1657 549.5,1656 552,1655.9 554.5,1658.2 557,1656.8 559.5,1657.1 562,1659.1 564.5,1659.1 567,1657.9 569.5,1659.7 572,1658.9 574.5,1659.5 577,1658.5 579.5,1660.5 582,1660.1 584.5,1660.9 587,1660.9 589.5,1659.7 592,1660 594.5,1659.7 597,1659.8 599.5,1659.8 602,1660.5 604.5,1661.4 607,1660.1 609.5,1661.9 612,1661.3 614.5,1661.4 617,1662.8 619.5,1662.2 622,1661.9 624.5,1662.5 627,1663.3 629.5,1661.9 632,1664.3 634.5,1662.2 637,1664.1 639,1664 640.3,1673.5 642.5,1672 645,1666 650.5,1665 651.5,1653 654,1653.5 654.8,1668.5 656,1657 662.1,1657.6 667.8,1659.7 669.1,1656.7 674.6,1659 674.8,1658.3 675.4,1657.7 680.5,1660.5 681.8,1656.9 687.5,1659.2 693.2,1661.5 694.5,1657.9 700.2,1660.5 705.9,1662.4 707.2,1657.9 711.6,1660.4 712.3,1658.4 712.9,1660.7 718.6,1662.6 719.9,1658.5 722.8,1660.3 723.5,1658.6 725.6,1660.5 731.3,1663.3 732.6,1658.5 738.2,1661.6 738.3,1661.2 739,1660.2 744,1663.8 745.3,1659.1 751,1661.8 756.7,1664.8 758,1659.2 763.7,1662.3 769.4,1664.8 770.7,1659.6 776.4,1663.1 782.1,1666 783.4,1660.2 789.1,1662.9 794.8,1666 796.1,1660.1 801.8,1663.5 807.5,1666.9 808.8,1660.6 812.4,1663.6 813.2,1660.8 814.5,1663.5 820.2,1667.1 821.5,1660.6 827.2,1663.9 832.9,1667.6 834.2,1661.3 839.9,1664.6 845.6,1668.2 846.9,1661.1 852.6,1665.1 858.3,1668.5 859.6,1661.4 865.3,1665.3 871,1668.6 872.3,1662 878,1665.9 883.7,1669.6 885,1661.9 890.7,1665.7 896.4,1669.5 897.7,1662 902.2,1666.1 902.9,1663.7 903.4,1666.5 909.1,1670.5 910.4,1661.9 916.1,1667 921.8,1671.1 923.1,1662.4 928.2,1667.5 928.8,1667.3 929,1664.3 934.5,1671.2 935.8,1662.4 940.7,1667.5 941.5,1667.3 941.5,1664.6 947.2,1672.1 948.5,1662.5 954.2,1667.9 959.9,1672.8 961.2,1663 966.9,1667.8 972.6,1673 973.9,1662.5 980.5,1672 982,1685 983.2,1678 984.5,1688 986,1681 988.5,1682 992,1677 994.5,1657 997,1654 999,1651 1002.2,1654.2 1003,1651.1 1005,1655.3 1010.7,1661.2 1012,1649.9 1017.4,1656.7 1017.7,1655.4 1018.1,1653.3 1023.4,1661.9 1024.7,1650.3 1030.4,1655.8 1036.1,1661.6 1037.4,1650.2 1043.1,1655.9 1048.8,1661.9 1050.1,1649.9 1055.8,1657.1 1061.5,1663.8 1062.8,1651.4 1068.5,1657.6 1074.2,1663.6 1075.5,1651.1 1081.2,1658.5 1086.9,1665.2 1088.2,1653.1 1093.9,1659.2 1099.6,1666 1100.9,1652.5 1106.6,1659.2 1112.3,1666.4 1113.6,1653 1119.3,1660.5 1125,1667.1 1126.3,1654.6 1132,1661.6 1137.7,1668.8 1139,1654 1142.9,1660.7 1143.7,1655.9 1144.7,1661 1150.4,1668.7 1151.7,1655.7 1157.4,1662.3 1163.1,1669.9 1164.4,1656.3 1170.1,1663.3 1175.8,1670.9 1177.1,1657.1 1181.4,1664.2 1182.2,1659.6 1182.8,1664.3 1188.5,1671.7 1189.8,1656.6 1195.5,1663.6 1201.2,1670.9 1202.5,1657.9 1208.2,1664.9 1213.9,1671.9 1215.2,1657.7 1218.3,1664.1 1219.1,1657.7 1220.9,1665.4 1226.6,1673.2 1227.9,1658.6 1233.6,1665.4 1239.3,1672.3 1240.6,1658.3 1246.3,1666.2 1252,1673.3 1253.3,1658.6 1256.6,1664.9 1257.3,1659 1259,1666.5 1264.7,1673.7 1266,1657.8 1270.9,1666.1 1271.7,1665.8 1271.7,1660.9 1277.4,1672.9 1278.7,1657.9 1281.5,1662.8 1282.2,1659.1 1284.4,1665.5 1290.1,1672.9 1291.4,1658.2 1297.1,1666 1302.8,1673.5 1304.1,1657.1 1309.8,1665.6 1315.5,1673.7 1316.8,1656.7 1322.5,1668 1324.3,1652.5 1327,1664 1329.5,1656 1332.5,1672 1334.5,1662 1338,1679 1340.9,1682 1342.2,1668.4 1347.9,1674.2 1353.6,1681 1354.9,1667.6 1359.1,1673.4 1359.9,1669.9 1360.6,1674 1366.3,1680 1367.6,1666.6 1373.3,1673.1 1379,1679.6 1380.3,1665.9 1386,1671.8 1391.7,1678.4 1393,1664.8 1398.7,1672 1404.4,1679 1405.7,1663.8 1411.4,1670.4 1417.1,1677 1418.4,1663.4 1424.1,1669.5 1429.8,1676.3 1431.1,1661.7 1436.8,1667.9 1442.5,1675 1443.8,1661.1 1449.5,1668.2 1455.2,1675.3 1456.5,1660.6 1462.2,1667.3 1467.9,1674.9 1469.2,1660.3 1471.9,1666.2 1472.6,1659.5 1474.9,1668.6 1480.6,1676 1481.9,1661.6 1487.6,1668.5 1493.3,1675.9 1494.6,1660.7 1500.3,1667.7 1506,1675.4 1507.3,1660.6 1513,1668.7 1518.7,1676.2 1520,1660.6 1525.7,1668.1 1531.4,1675.8 1532.7,1661.5 1538,1668.9 1538.4,1668.3 1538.8,1665.9 1544.1,1675.1 1545.4,1660.7 1551.1,1668.4 1556.8,1676.3 1558.1,1661.3 1561.6,1666.7 1562.4,1663.2 1563.8,1668 1569.5,1675 1570.8,1660.9 1574,1666.1 1574.8,1662.8 1576.5,1667.8 1582.2,1675.2 1583.5,1659.6 1589.2,1667.5 1594.9,1675.1 1596.2,1660.1 1600.7,1668.4 1601.5,1662.5 1601.9,1667.8 1607.6,1676 1608.9,1660.4 1611.9,1666.3 1612.7,1660 1614.6,1667 1620.3,1674.4 1621.6,1659.8 1627.3,1666.9 1633,1674.4 1634.3,1658.9 1638.9,1666.7 1639.6,1661.4 1640,1666.8 1645.7,1673.9 1647,1658.1 1651.9,1666.8 1652.7,1665.7 1652.7,1660.8 1658.4,1673.4 1659.7,1657.8 1665.5,1668 1667.3,1650 1670,1663 1672.5,1657 1676,1680 1679,1668 1682,1684 1683.8,1688.4 1685.1,1675 1688.2,1679.4 1689,1676.5 1690.8,1681.1 1696.5,1687.3 1697.8,1674.2 1701.8,1679.9 1702.6,1676.9 1703.5,1680.7 1709.2,1687.4 1710.5,1672.9 1716.2,1679.4 1721.9,1685 1723.2,1671 1727.3,1677.3 1728.1,1672.6 1728.9,1677.5 1734.6,1683.9 1735.9,1670.2 1741.6,1676.7 1747.3,1683.5 1748.6,1668.6 1751.9,1674.4 1752.7,1668.3 1754.3,1674.6 1760,1681.5 1761.3,1668.3 1764.4,1673.2 1765.2,1668.5 1767,1673.9 1772.7,1680.4 1774,1667.6 1779.7,1673 1785.4,1679.4 1786.7,1666.6 1790.4,1672.3 1791.2,1667.8 1792.4,1672.9 1798.1,1679.5 1799.4,1665.2 1805.1,1672.5 1810.8,1679.6 1812.1,1665.1 1817.8,1672.4 1823.5,1679.3 1824.8,1665.7 1830.5,1672.1 1836.2,1679.2 1837.5,1665.5 1843.2,1671.5 1848.9,1678 1850.2,1664.3 1852.6,1669.3 1853.4,1663.2 1855.9,1670.8 1861.6,1678.2 1862.9,1663.7 1866.6,1669.5 1867.4,1666.1 1868.6,1670.7" fill="none" stroke="#000000" stroke-width="3.0" stroke-linejoin="round" stroke-linecap="butt"/>
</g>
<text class="tk" x="270.8" y="1632.8" text-anchor="end">1000</text>
<text class="tk" x="270.8" y="1692.2" text-anchor="end">950</text>
<text class="tk" x="270.8" y="1750.3" text-anchor="end">900</text>
<text class="lb" transform="translate(80.2 1662) rotate(-90)" text-anchor="middle">Vload, V</text>
</g>
<text class="tk" x="294.1" y="1922.5" text-anchor="middle">0</text>
<text class="tk" x="636.9" y="1922.5" text-anchor="middle">0.5</text>
<text class="tk" x="979.6" y="1922.5" text-anchor="middle">1</text>
<text class="tk" x="1322.3" y="1922.5" text-anchor="middle">1.5</text>
<text class="tk" x="1665.1" y="1922.5" text-anchor="middle">2</text>
<text class="lb" x="1081.5" y="2000.3" text-anchor="middle">Time, s</text>
<g id="annotations">
<path class="ar" d="M414 236L356 316.8"/><path class="ah" d="M335 346L349.8 291.1L356 316.8L382.3 314.5Z"/>
<path class="ar" d="M1153 243L1102.7 154.3"/><path class="ah" d="M1085 123L1128.6 159.4L1102.7 154.3L1093.8 179.1Z"/>
<path class="ar" d="M1410 172L1376.6 116.8"/><path class="ah" d="M1358 86L1402.6 121.2L1376.6 116.8L1368.4 141.9Z"/>
<path class="ar" d="M477 942.4L414.8 1003.9"/><path class="ah" d="M389.2 1029.2L413 977.6L414.8 1003.9L441.1 1006Z"/>
<path class="ar" d="M1105 945L1075.9 894.2"/><path class="ah" d="M1058 863L1101.8 899.2L1075.9 894.2L1067.1 919.1Z"/>
<path class="ar" d="M1453 917L1420.4 862"/><path class="ah" d="M1402 831L1446.3 866.6L1420.4 862L1411.9 887Z"/>
<path class="ar" d="M856 1293L797.8 1375.6"/><path class="ah" d="M777 1405L791.3 1350L797.8 1375.6L824 1373.1Z"/>
<path class="ar" d="M765 1561L706.1 1631.4"/><path class="ah" d="M683 1659L701.8 1605.4L706.1 1631.4L732.5 1631Z"/>
<text class="an" x="437" y="223.9">Tidal speed (m/s)</text>
<text class="an" x="1430.8" y="223">Wind speed (m/s)</text>
<text class="an" x="820.5" y="295">Solar irradiation/100 (kW/m2)</text>
<text class="an" x="498" y="930">Solar</text>
<text class="an" x="1056" y="996">Tidal</text>
<text class="an" x="1476.5" y="970">Wind</text>
<text class="an" x="878" y="1281">Battery charing  current</text>
<text class="an" x="788" y="1549">Load voltage</text>
</g>
</svg>
</body></html>
